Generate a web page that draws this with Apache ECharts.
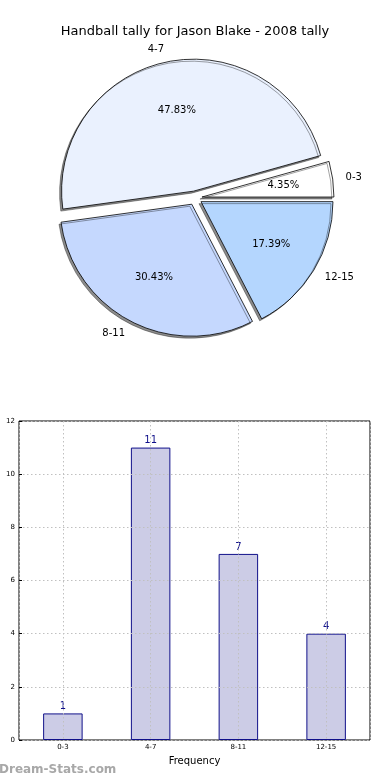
<!DOCTYPE html>
<html><head><meta charset="utf-8">
<script src="https://cdn.jsdelivr.net/npm/echarts@6/dist/echarts.min.js"></script>
<style>html,body{margin:0;padding:0;background:#fff}#c{width:390px;height:780px}</style>
</head><body><div id="c"></div>
<script>
const titleText = 'Handball tally for Jason Blake - 2008 tally';
const categories = ['0-3', '4-7', '8-11', '12-15'];
const tallies = [1, 11, 7, 4];
const sliceColors = ['#FFFFFF', '#EAF1FE', '#C5D8FE', '#B4D6FE'];
const yTicks = { min: 0, max: 12, interval: 2 };
const xAxisName = 'Frequency';
const yAxisName = 'Stat Value/Tally';
const watermark = 'Dream-Stats.com';

const font = 'DejaVu Sans';
const R = 132, OFF = 7;
const pieData = categories.map((c, i) => ({
  name: c, value: tallies[i], selected: true,
  itemStyle: { color: sliceColors[i] }
}));
const pieLabelData = categories.map((c, i) => ({ name: c, value: tallies[i], selected: true }));

const chart = echarts.init(document.getElementById('c'), null, { renderer: 'canvas' });
chart.setOption({
  animation: false,
  textStyle: { fontFamily: font },
  title: {
    text: titleText, left: 'center', top: 20,
    textStyle: { fontFamily: font, fontSize: 13, fontWeight: 'normal', color: '#000' }
  },
  graphic: [{
    type: 'text', left: -1, top: 764,
    style: { text: watermark, fontFamily: font, fontSize: 12, fontWeight: 'bold', fill: '#a8a8a8' }
  }],
  grid: {
    left: 19, right: 20, top: 421, bottom: 40, outerBoundsMode: 'none', containLabel: false,
    show: true, borderColor: '#000', borderWidth: 1, backgroundColor: '#fff'
  },
  xAxis: [{
    type: 'category', data: categories, gridIndex: 0,
    name: xAxisName, nameLocation: 'middle', nameGap: 16,
    nameTextStyle: { fontFamily: font, fontSize: 10, color: '#000' },
    axisLine: { show: false, onZero: false },
    axisTick: { show: false },
    axisLabel: { fontSize: 7, color: '#000', margin: 4, fontFamily: font },
    splitLine: { show: false }
  }, {
    type: 'value', gridIndex: 0, min: -0.5, max: 3.5, splitNumber: 4, z: 5,
    show: true, position: 'bottom',
    axisLine: { show: false, onZero: false }, axisTick: { show: false }, axisLabel: { show: false },
    splitLine: { show: true, lineStyle: { color: '#c0c0c0', type: [1.5, 2.5], width: 1 } }
  }],
  yAxis: [{
    type: 'value', min: yTicks.min, max: yTicks.max, interval: yTicks.interval, z: 5,
    position: 'left',
    name: yAxisName, nameLocation: 'middle', nameGap: 18, nameRotate: 90,
    nameTextStyle: { fontFamily: font, fontSize: 10, color: '#000' },
    axisLine: { show: false, onZero: false },
    axisTick: { show: true, inside: true, length: 3, lineStyle: { color: '#000' } },
    axisLabel: { fontSize: 7, color: '#000', margin: 4, fontFamily: font },
    splitLine: { show: true, lineStyle: { color: '#c0c0c0', type: [1.5, 2.5], width: 1 } }
  }],
  series: [
    {
      type: 'pie', center: [195, 198], radius: [0, R],
      startAngle: 0, clockwise: false, avoidLabelOverlap: false,
      selectedMode: 'multiple', selectedOffset: OFF, silent: true,
      emphasis: { disabled: true, scale: false },
      itemStyle: { borderColor: '#000', borderWidth: 0.8, shadowColor: 'rgba(0,0,0,0.45)', shadowBlur: 0, shadowOffsetX: -2, shadowOffsetY: 2 },
      label: { show: true, position: 'outside', formatter: '{b}', fontFamily: font, fontSize: 10, color: '#000', distanceToLabelLine: 0 },
      labelLine: { show: false, length: Math.round(R * 0.1), length2: 0 },
      data: pieData
    },
    {
      type: 'pie', center: [195, 198], radius: [0, R * 1.2],
      startAngle: 0, clockwise: false, avoidLabelOverlap: false,
      selectedMode: 'multiple', selectedOffset: OFF, silent: true, z: 3,
      emphasis: { disabled: true, scale: false },
      itemStyle: { color: 'rgba(0,0,0,0)', borderWidth: 0 },
      label: { show: true, position: 'inside', formatter: p => p.percent.toFixed(2) + '%', fontFamily: font, fontSize: 10, color: '#000' },
      labelLine: { show: false },
      data: pieLabelData
    },
    {
      type: 'bar', xAxisIndex: 0, yAxisIndex: 0, data: tallies, barWidth: '45%',
      itemStyle: { color: '#CCCCE6', borderColor: '#10108a', borderWidth: 1 },
      label: { show: true, position: 'top', distance: 2, fontFamily: font, fontSize: 10, color: '#10108a' },
      emphasis: { disabled: true }
    }
  ]
});
</script></body></html>
